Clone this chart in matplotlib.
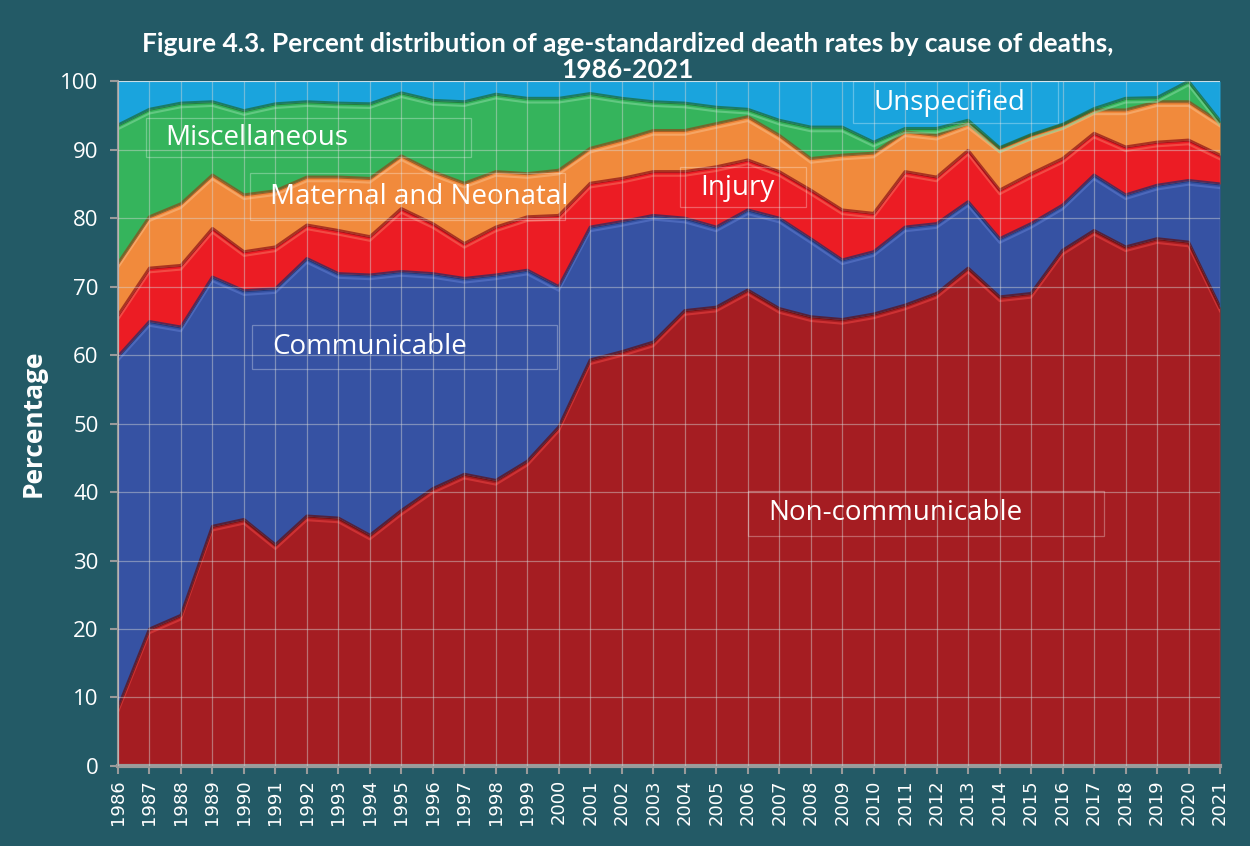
import numpy as np
import matplotlib
matplotlib.use('Agg')
import matplotlib.pyplot as plt
import matplotlib.patheffects as pe
from matplotlib.patches import Rectangle

# years on the x axis
years = list(range(1986, 2022))

# percent share of each cause
non_communicable = [8.5, 20.0, 22.0, 35.0, 36.0, 32.3, 36.5, 36.2, 33.7, 37.3, 40.5, 42.6,
                    41.7, 44.5, 49.5, 59.3, 60.5, 61.9, 66.5, 67.0, 69.5, 66.8, 65.6, 65.2,
                    66.0, 67.3, 69.0, 72.7, 68.5, 69.0, 75.3, 78.2, 75.8, 77.0, 76.5, 67.0]
communicable = [51.3, 44.9, 42.1, 36.4, 33.4, 37.4, 37.6, 35.7, 38.0, 34.9, 31.4, 28.6,
                30.0, 27.9, 20.5, 19.4, 19.0, 18.5, 13.5, 11.7, 11.7, 13.2, 11.4, 8.7,
                9.1, 11.4, 10.2, 9.7, 8.5, 10.2, 6.6, 8.1, 7.6, 7.8, 9.0, 18.0]
injury = [6.0, 7.8, 9.0, 7.1, 5.7, 6.1, 4.9, 6.3, 5.6, 9.2, 7.3, 5.1,
          7.0, 7.8, 10.4, 6.4, 6.3, 6.4, 6.8, 8.8, 7.3, 6.8, 7.1, 7.3,
          5.6, 8.1, 6.8, 7.5, 7.1, 7.3, 6.8, 6.1, 7.0, 6.3, 5.9, 4.2]
maternal_neonatal = [7.6, 7.5, 9.0, 7.8, 8.3, 8.2, 7.0, 7.8, 8.5, 7.7, 7.6, 8.8,
                     8.1, 6.3, 6.6, 5.1, 5.6, 6.0, 6.0, 6.3, 6.3, 5.3, 4.6, 8.0,
                     8.8, 5.8, 6.1, 3.9, 6.1, 5.6, 4.9, 3.4, 5.4, 5.9, 5.6, 4.8]
miscellaneous = [20.2, 15.7, 14.7, 10.7, 12.3, 12.7, 11.0, 10.8, 10.9, 9.2, 10.4, 11.9,
                 11.3, 11.0, 10.5, 8.0, 6.1, 4.2, 4.0, 2.4, 1.1, 2.2, 4.6, 4.1,
                 1.6, 0.5, 1.0, 0.5, 0.1, 0.1, 0.1, 0.2, 1.7, 0.6, 3.0, 0.2]

colors = ['#a51d22', '#3652a3', '#ec1c24', '#f18a3c', '#35b45c', '#1aa4dd']
edge_colors = ['#5e0d10', '#1d2d66', '#8a1015', '#8a4a18', '#1a6a33', '#0d5f82']
light_colors = ['#e8403f', '#5b78cc', '#f56a5a', '#f8b880', '#7fd69a', '#7fd0f2']

bg = '#235a66'

x = np.array(years)
layers = [np.array(non_communicable), np.array(communicable), np.array(injury),
          np.array(maternal_neonatal), np.array(miscellaneous)]
# whatever is left up to 100 is "Unspecified"
unspecified = 100 - np.sum(layers, axis=0)
layers.append(unspecified)
tops = np.cumsum(layers, axis=0)

fig = plt.figure(figsize=(12.5, 8.46), dpi=100, facecolor=bg)
ax = fig.add_axes([0.0944, 0.0946, 0.8816, 0.8094])
ax.set_facecolor('white')

bottom = np.zeros(len(x))
for i in range(len(layers)):
    ax.fill_between(x, bottom, tops[i], color=colors[i], linewidth=0, zorder=1)
    bottom = tops[i]

# rough bevel look along each boundary
for i in range(len(layers) - 1):
    ax.plot(x, tops[i], color=edge_colors[i], lw=2.2, alpha=0.7, zorder=2,
            path_effects=[pe.SimpleLineShadow(offset=(0, -3), shadow_color=light_colors[i],
                                              alpha=0.6, linewidth=1.5), pe.Normal()])

ax.set_xlim(1986, 2021)
ax.set_ylim(0, 100)

ax.set_xticks(years)
ax.set_xticklabels([str(y) for y in years], rotation=90, fontsize=13,
                   family='DejaVu Sans', color='white')
ax.set_yticks(range(0, 101, 10))
ax.set_yticklabels([str(v) for v in range(0, 101, 10)], fontsize=16,
                   family='Open Sans', color='white')
ax.tick_params(axis='both', colors='#9a9a9a', length=6, width=1.5, labelcolor='white')
ax.tick_params(axis='y', pad=8)

ax.grid(True, color='#d8d8d8', alpha=0.45, lw=0.9, zorder=3)
ax.set_axisbelow(False)
for s in ['top', 'right']:
    ax.spines[s].set_visible(False)
ax.spines['left'].set_color('#9a9a9a')
ax.spines['left'].set_linewidth(1.5)
ax.spines['bottom'].set_color('#9a9a9a')
ax.spines['bottom'].set_linewidth(3)

ax.set_ylabel('Percentage', fontsize=19, fontweight='bold', color='white',
              family='Open Sans', labelpad=10)

fig.text(0.502, 0.962, 'Figure 4.3. Percent distribution of age-standardized death rates by cause of deaths,\n1986-2021',
         ha='center', va='top', fontsize=19, fontweight='bold', color='white',
         family='Lato', linespacing=1.1)

# series labels with faint boxes
labels = [
    ('Miscellaneous', 1987.49, 91.7, 1986.9, 89.0, 10.3, 5.6),
    ('Maternal and Neonatal', 1990.83, 83.1, 1990.2, 79.8, 10.0, 6.8),
    ('Injury', 2004.48, 84.4, 2003.85, 81.7, 4.0, 5.8),
    ('Unspecified', 2009.98, 96.8, 2009.35, 93.9, 6.5, 6.1),
    ('Communicable', 1990.89, 61.2, 1990.25, 58.0, 9.7, 6.4),
    ('Non-communicable', 2006.64, 36.9, 2006.0, 33.6, 11.3, 6.6),
]
for txt, tx, ty, rx, ry, rw, rh in labels:
    ax.text(tx, ty, txt, fontsize=20, color='white', family='Open Sans',
            ha='left', va='center', zorder=5)
    ax.add_patch(Rectangle((rx, ry), rw, rh, fill=False, edgecolor='white',
                           alpha=0.3, lw=0.9, zorder=4))

fig.savefig('out.png', dpi=100, facecolor=bg)
